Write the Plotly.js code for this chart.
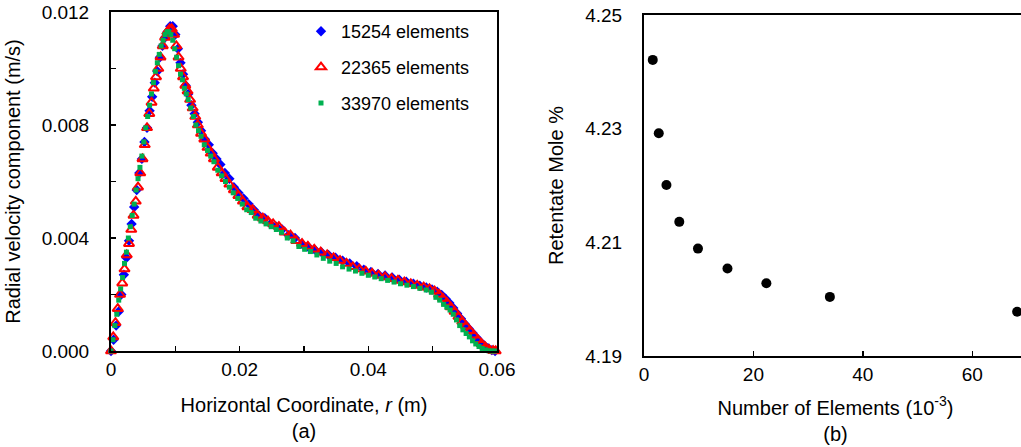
<!DOCTYPE html>
<html>
<head>
<meta charset="utf-8">
<script src="https://cdn.plot.ly/plotly-3.0.1.min.js"></script>
<style>
html,body{margin:0;padding:0;background:#fff;overflow:hidden;}
#chart{width:1030px;height:447px;}
</style>
</head>
<body>
<div id="chart"></div>
<script>
// ---- Panel (a): radial velocity vs horizontal coordinate ----
const seriesNames = ['15254 elements', '22365 elements', '33970 elements'];

const r15254 = [0, 0.0004, 0.0008, 0.0012, 0.0016, 0.002, 0.0024, 0.0028, 0.0032, 0.0036, 0.004, 0.0044, 0.0048, 0.0052, 0.0056, 0.006, 0.0064, 0.0068, 0.0072, 0.0076, 0.008, 0.0084, 0.0088, 0.0092, 0.0096, 0.01, 0.0104, 0.0108, 0.0112, 0.0116, 0.012, 0.0125, 0.013, 0.0135, 0.014, 0.0146, 0.0152, 0.0158, 0.0164, 0.017, 0.0177, 0.0184, 0.0191, 0.0198, 0.0206, 0.0214, 0.0222, 0.023, 0.0239, 0.0248, 0.0257, 0.0266, 0.0276, 0.0286, 0.0296, 0.0306, 0.0316, 0.0327, 0.0338, 0.0349, 0.036, 0.0371, 0.0382, 0.0393, 0.0404, 0.0415, 0.0426, 0.0437, 0.0448, 0.0459, 0.047, 0.048, 0.049, 0.0499, 0.0507, 0.0514, 0.052, 0.0526, 0.0532, 0.0538, 0.0544, 0.055, 0.0556, 0.0562, 0.0568, 0.0574, 0.058, 0.0586, 0.0592, 0.0597];
const v15254 = [0, 0.0004, 0.0009, 0.0014, 0.0020, 0.0027, 0.0033, 0.0039, 0.0045, 0.0051, 0.0057, 0.0063, 0.0068, 0.0074, 0.0079, 0.0085, 0.0090, 0.0095, 0.0099, 0.0104, 0.0108, 0.0111, 0.0113, 0.0115, 0.0115, 0.0112, 0.0107, 0.0102, 0.0098, 0.0094, 0.0091, 0.0087, 0.0084, 0.0081, 0.0078, 0.0075, 0.0073, 0.0070, 0.0068, 0.0066, 0.0063, 0.0061, 0.0058, 0.0056, 0.0054, 0.0052, 0.0050, 0.0048, 0.0047, 0.0045, 0.0044, 0.0043, 0.0041, 0.0040, 0.0038, 0.0037, 0.0036, 0.0035, 0.0034, 0.0033, 0.0032, 0.0031, 0.0030, 0.00288, 0.0028, 0.00273, 0.00267, 0.0026, 0.00252, 0.00245, 0.00238, 0.00231, 0.00225, 0.00218, 0.0021, 0.00198, 0.00185, 0.0017, 0.00152, 0.00133, 0.00114, 0.00096, 0.0008, 0.00064, 0.00048, 0.00033, 0.0002, 0.0001, 0.00003, 0];

const r22365 = [0, 0.00035, 0.0007, 0.00105, 0.0014, 0.00175, 0.0021, 0.00245, 0.0028, 0.00315, 0.0035, 0.00385, 0.0042, 0.00455, 0.0049, 0.00525, 0.0056, 0.00595, 0.0063, 0.00665, 0.007, 0.00735, 0.0077, 0.00805, 0.0084, 0.00875, 0.0091, 0.00945, 0.0098, 0.01015, 0.0105, 0.01085, 0.0112, 0.01155, 0.0119, 0.0123, 0.0127, 0.0131, 0.0135, 0.014, 0.0145, 0.015, 0.0155, 0.016, 0.0166, 0.0172, 0.0178, 0.0184, 0.0191, 0.0198, 0.0205, 0.0212, 0.022, 0.0228, 0.0236, 0.0244, 0.0252, 0.0261, 0.027, 0.0279, 0.0288, 0.0297, 0.0306, 0.0316, 0.0326, 0.0336, 0.0346, 0.0356, 0.0366, 0.0376, 0.0386, 0.0396, 0.0406, 0.0416, 0.0426, 0.0436, 0.0446, 0.0456, 0.0466, 0.0476, 0.0486, 0.0495, 0.0503, 0.051, 0.0516, 0.0522, 0.0528, 0.0534, 0.054, 0.0546, 0.0552, 0.0558, 0.0564, 0.057, 0.0576, 0.0582, 0.0588, 0.0594, 0.0598];
const v22365 = [0, 0.0005, 0.0010, 0.0015, 0.0020, 0.0024, 0.0029, 0.0034, 0.0038, 0.0043, 0.0048, 0.0053, 0.0058, 0.0063, 0.0068, 0.0073, 0.0079, 0.0084, 0.0088, 0.0093, 0.0097, 0.0100, 0.0104, 0.0108, 0.0111, 0.0113, 0.0114, 0.0114, 0.0112, 0.0108, 0.0104, 0.0100, 0.0097, 0.0094, 0.0092, 0.0089, 0.0086, 0.0083, 0.0080, 0.0077, 0.0075, 0.0072, 0.0070, 0.0068, 0.0065, 0.0063, 0.0061, 0.0059, 0.0057, 0.0055, 0.0053, 0.0051, 0.0050, 0.0048, 0.0047, 0.0046, 0.0045, 0.0044, 0.0042, 0.0041, 0.0039, 0.0038, 0.0037, 0.0036, 0.0035, 0.0034, 0.0033, 0.0032, 0.0031, 0.00298, 0.0029, 0.00282, 0.00275, 0.00268, 0.00262, 0.00256, 0.0025, 0.00244, 0.00238, 0.00232, 0.00226, 0.0022, 0.00212, 0.002, 0.00186, 0.00172, 0.00156, 0.0014, 0.00122, 0.00104, 0.00088, 0.00072, 0.00056, 0.0004, 0.00026, 0.00014, 0.00005, 0.00001, 0];

const r33970 = [0, 0.0003, 0.0006, 0.0009, 0.0012, 0.0015, 0.0018, 0.0021, 0.0024, 0.0027, 0.003, 0.0033, 0.0036, 0.0039, 0.0042, 0.0045, 0.0048, 0.0051, 0.0054, 0.0057, 0.006, 0.0063, 0.0066, 0.0069, 0.0072, 0.0075, 0.0078, 0.0081, 0.0084, 0.0087, 0.009, 0.0093, 0.0096, 0.0099, 0.0102, 0.0105, 0.0108, 0.0111, 0.0114, 0.0117, 0.012, 0.0124, 0.0128, 0.0132, 0.0136, 0.014, 0.0145, 0.015, 0.0155, 0.016, 0.0166, 0.0172, 0.0178, 0.0184, 0.019, 0.0197, 0.0204, 0.0211, 0.0218, 0.0225, 0.0233, 0.0241, 0.0249, 0.0257, 0.0265, 0.0274, 0.0283, 0.0292, 0.0301, 0.031, 0.032, 0.033, 0.034, 0.035, 0.036, 0.037, 0.038, 0.039, 0.04, 0.041, 0.042, 0.043, 0.044, 0.045, 0.046, 0.047, 0.048, 0.049, 0.0498, 0.0505, 0.0511, 0.0517, 0.0522, 0.0527, 0.0532, 0.0537, 0.0542, 0.0547, 0.0552, 0.0557, 0.0562, 0.0567, 0.0572, 0.0577, 0.0582, 0.0587, 0.0592, 0.0596];
const v33970 = [0, 0.0004, 0.0009, 0.0013, 0.0018, 0.0022, 0.0026, 0.0031, 0.0035, 0.0040, 0.0044, 0.0048, 0.0052, 0.0057, 0.0061, 0.0065, 0.0069, 0.0074, 0.0079, 0.0083, 0.0087, 0.0091, 0.0095, 0.0099, 0.0102, 0.0105, 0.0108, 0.0110, 0.0112, 0.0113, 0.0113, 0.0112, 0.0110, 0.0107, 0.0104, 0.0101, 0.0098, 0.0096, 0.0093, 0.0091, 0.0089, 0.0086, 0.0083, 0.0080, 0.0078, 0.0076, 0.0073, 0.0071, 0.0069, 0.0067, 0.0064, 0.0062, 0.0060, 0.0058, 0.0056, 0.0054, 0.0052, 0.0050, 0.0049, 0.0047, 0.0046, 0.0045, 0.0044, 0.0043, 0.0042, 0.0040, 0.0039, 0.0037, 0.0036, 0.00352, 0.0034, 0.00328, 0.00318, 0.0031, 0.00298, 0.0029, 0.00283, 0.00275, 0.00268, 0.00262, 0.00256, 0.0025, 0.00244, 0.00238, 0.00233, 0.00228, 0.00222, 0.00216, 0.00208, 0.0019, 0.0018, 0.00165, 0.00155, 0.00145, 0.0013, 0.0011, 0.0009, 0.00075, 0.00062, 0.0005, 0.00036, 0.00025, 0.00016, 0.00009, 0.00004, 0.00001, 0, 0];

// ---- Panel (b): retentate mole % vs number of elements (x10^-3) ----
const elements = [1.6, 2.7, 4.1, 6.45, 9.86, 15.254, 22.365, 33.97, 68.2];
const retentateMole = [4.2421, 4.2292, 4.2201, 4.2136, 4.2089, 4.2054, 4.2028, 4.2004, 4.1978];

const FONT = 'Liberation Sans, Arial, sans-serif';

const traces = [
  {x: r15254, y: v15254, name: seriesNames[0], type: 'scatter', mode: 'markers', legendgroup: 'a',
   marker: {symbol: 'diamond', size: 8, color: '#0000FF'}, cliponaxis: false, xaxis: 'x', yaxis: 'y'},
  {x: r22365, y: v22365, name: seriesNames[1], type: 'scatter', mode: 'markers', legendgroup: 'b',
   marker: {symbol: 'triangle-up-open', size: 9, color: '#FF0000', line: {width: 2, color: '#FF0000'}}, cliponaxis: false, xaxis: 'x', yaxis: 'y'},
  {x: r33970, y: v33970, name: seriesNames[2], type: 'scatter', mode: 'markers', legendgroup: 'c',
   marker: {symbol: 'square', size: 5, color: '#00B050'}, cliponaxis: false, xaxis: 'x', yaxis: 'y'},
  {x: elements, y: retentateMole, type: 'scatter', mode: 'markers', showlegend: false,
   marker: {symbol: 'circle', size: 10, color: '#000000'}, cliponaxis: false, xaxis: 'x2', yaxis: 'y2'}
];

const W = 1030, H = 447;
const axCommon = {
  showline: true, linecolor: '#000', linewidth: 2, mirror: true,
  showgrid: false, zeroline: false, tickcolor: '#000',
  tickfont: {family: FONT, size: 19, color: '#000'}
};

const layout = {
  width: W, height: H, autosize: false,
  margin: {l: 0, r: 0, t: 0, b: 0},
  paper_bgcolor: '#fff', plot_bgcolor: '#fff',
  font: {family: FONT, color: '#000'},
  showlegend: true,
  legend: {x: 301 / W, xanchor: 'left', y: (H - 13) / H, yanchor: 'top',
           bgcolor: 'rgba(0,0,0,0)', borderwidth: 0, tracegroupgap: 9.5,
           font: {family: FONT, size: 18, color: '#000'}},
  xaxis: Object.assign({}, axCommon, {
    domain: [111 / W, 497 / W], range: [0, 0.06], anchor: 'y',
    tick0: 0, dtick: 0.02, ticks: 'inside', ticklen: 5, tickwidth: 1.5,
    minor: {dtick: 0.01, ticks: 'inside', ticklen: 5, tickwidth: 1.5, tickcolor: '#000', showgrid: false},
    title: {text: 'Horizontal Coordinate, <i>r</i> (m)<br>(a)', font: {family: FONT, size: 20, color: '#000'}, standoff: 19}
  }),
  yaxis: Object.assign({}, axCommon, {
    domain: [(H - 351) / H, (H - 12) / H], range: [0, 0.012], anchor: 'x',
    tick0: 0, dtick: 0.004, tickformat: '.3f', ticks: 'inside', ticklen: 5, tickwidth: 1.5,
    ticklabelstandoff: 16,
    minor: {dtick: 0.002, ticks: 'inside', ticklen: 5, tickwidth: 1.5, tickcolor: '#000', showgrid: false},
    title: {text: 'Radial velocity component (m/s)', font: {family: FONT, size: 20, color: '#000'}, standoff: 16}
  }),
  xaxis2: Object.assign({}, axCommon, {
    domain: [644 / W, 1027 / W], range: [0, 70], anchor: 'y2',
    tick0: 0, dtick: 20, ticks: 'inside', ticklen: 5, tickwidth: 1.5,
    title: {text: 'Number of Elements (10<sup>-3</sup>)<br>(b)', font: {family: FONT, size: 20, color: '#000'}, standoff: 17}
  }),
  yaxis2: Object.assign({}, axCommon, {
    domain: [(H - 356) / H, (H - 15) / H], range: [4.19, 4.25], anchor: 'x2',
    tick0: 4.19, dtick: 0.02, tickformat: '.2f', ticks: '',
    ticklabelstandoff: 16,
    title: {text: 'Retentate Mole %', font: {family: FONT, size: 20, color: '#000'}, standoff: 16}
  })
};

Plotly.newPlot('chart', traces, layout, {displayModeBar: false, staticPlot: true});
</script>
</body>
</html>
